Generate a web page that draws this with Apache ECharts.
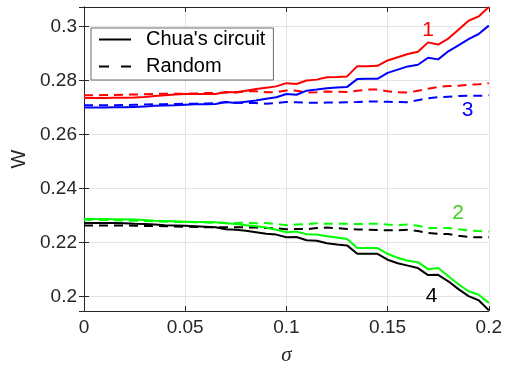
<!DOCTYPE html>
<html>
<head>
<meta charset="utf-8">
<script src="https://cdn.jsdelivr.net/npm/echarts@6/dist/echarts.min.js"></script>
<style>
  html, body { margin: 0; padding: 0; background: #fff; }
  #chart { width: 505px; height: 374px; }
</style>
</head>
<body>
<div id="chart"></div>
<script>
// σ 取值（横轴）
const sigma = [
  0, 0.005, 0.01, 0.015, 0.02, 0.025, 0.03, 0.035, 0.04, 0.045,
  0.05, 0.055, 0.06, 0.065, 0.07, 0.075, 0.08, 0.085, 0.09, 0.095,
  0.1, 0.105, 0.11, 0.115, 0.12, 0.125, 0.13, 0.135, 0.14, 0.145,
  0.15, 0.155, 0.16, 0.165, 0.17, 0.175, 0.18, 0.185, 0.19, 0.195, 0.2
]

// curve 1 (red)
const redChua = [
  0.2736, 0.2736, 0.2736, 0.2737, 0.2737, 0.2738, 0.2740, 0.2743, 0.2746, 0.2749,
  0.2751, 0.2751, 0.2751, 0.2751, 0.2758, 0.2757, 0.2763, 0.2769, 0.2774, 0.2779,
  0.2791, 0.2788, 0.2801, 0.2804, 0.2813, 0.2814, 0.2816, 0.2854, 0.2854, 0.2855,
  0.2875, 0.2887, 0.2899, 0.2907, 0.2942, 0.2934, 0.2956, 0.2989, 0.3022, 0.3038, 0.3073
]
const redRandom = [
  0.2746, 0.2746, 0.2747, 0.2747, 0.2748, 0.2749, 0.2750, 0.2751, 0.2752, 0.2752,
  0.2752, 0.2753, 0.2754, 0.2754, 0.2756, 0.2756, 0.2761, 0.2761, 0.2757, 0.2757,
  0.2764, 0.2763, 0.2756, 0.2757, 0.2760, 0.2759, 0.2758, 0.2763, 0.2767, 0.2767,
  0.2761, 0.2757, 0.2756, 0.2763, 0.2770, 0.2777, 0.2780, 0.2781, 0.2785, 0.2787, 0.2791
]
// curve 3 (blue)
const blueChua = [
  0.2701, 0.2701, 0.2701, 0.2702, 0.2702, 0.2703, 0.2704, 0.2707, 0.2708, 0.2709,
  0.2711, 0.2713, 0.2713, 0.2714, 0.2721, 0.2717, 0.2722, 0.2727, 0.2733, 0.2739,
  0.2751, 0.2748, 0.2763, 0.2767, 0.2772, 0.2775, 0.2777, 0.2806, 0.2807, 0.2807,
  0.2829, 0.2841, 0.2853, 0.2859, 0.2885, 0.2879, 0.2909, 0.2931, 0.2954, 0.2973, 0.3004
]
const blueRandom = [
  0.2709, 0.2709, 0.2709, 0.2709, 0.2710, 0.2711, 0.2712, 0.2713, 0.2713, 0.2714,
  0.2715, 0.2715, 0.2716, 0.2717, 0.2720, 0.2719, 0.2717, 0.2717, 0.2715, 0.2717,
  0.2721, 0.2720, 0.2719, 0.2718, 0.2719, 0.2719, 0.2720, 0.2721, 0.2723, 0.2723,
  0.2722, 0.2721, 0.2720, 0.2728, 0.2735, 0.2739, 0.2741, 0.2743, 0.2744, 0.2744, 0.2746
]
// curve 2 (green)
const greenChua = [
  0.2288, 0.2288, 0.2288, 0.2287, 0.2287, 0.2286, 0.2284, 0.2281, 0.2280, 0.2279,
  0.2278, 0.2277, 0.2277, 0.2276, 0.2272, 0.2269, 0.2265, 0.2261, 0.2256, 0.2248,
  0.2239, 0.2241, 0.2231, 0.2230, 0.2224, 0.2219, 0.2214, 0.2180, 0.2180, 0.2180,
  0.2159, 0.2144, 0.2133, 0.2128, 0.2102, 0.2106, 0.2076, 0.2046, 0.2020, 0.2007, 0.1977
]
const greenRandom = [
  0.2285, 0.2285, 0.2284, 0.2283, 0.2282, 0.2281, 0.2280, 0.2279, 0.2278, 0.2277,
  0.2277, 0.2276, 0.2275, 0.2274, 0.2273, 0.2273, 0.2274, 0.2272, 0.2273, 0.2269,
  0.2265, 0.2267, 0.2269, 0.2272, 0.2270, 0.2270, 0.2270, 0.2269, 0.2270, 0.2270,
  0.2267, 0.2265, 0.2267, 0.2263, 0.2254, 0.2254, 0.2254, 0.2250, 0.2246, 0.2243, 0.2241
]
// curve 4 (black)
const blackChua = [
  0.2273, 0.2273, 0.2273, 0.2273, 0.2272, 0.2270, 0.2269, 0.2267, 0.2265, 0.2264,
  0.2263, 0.2261, 0.2259, 0.2257, 0.2250, 0.2248, 0.2244, 0.2239, 0.2233, 0.2230,
  0.2220, 0.2221, 0.2209, 0.2207, 0.2198, 0.2193, 0.2190, 0.2159, 0.2159, 0.2159,
  0.2137, 0.2124, 0.2115, 0.2106, 0.2080, 0.2081, 0.2057, 0.2028, 0.2002, 0.1987, 0.1950
]
const blackRandom = [
  0.2264, 0.2264, 0.2264, 0.2264, 0.2264, 0.2263, 0.2262, 0.2262, 0.2261, 0.2260,
  0.2259, 0.2258, 0.2257, 0.2257, 0.2257, 0.2257, 0.2257, 0.2256, 0.2254, 0.2253,
  0.2250, 0.2251, 0.2250, 0.2254, 0.2256, 0.2254, 0.2251, 0.2249, 0.2248, 0.2247,
  0.2246, 0.2246, 0.2248, 0.2243, 0.2236, 0.2233, 0.2232, 0.2226, 0.2221, 0.2220, 0.2220
]

// 曲线编号标注 [σ, W]
const curveLabels = [
  { text: '1', at: [0.170, 0.2987], color: '#ff0000' },
  { text: '2', at: [0.1848, 0.2311], color: '#3fcc1e' },
  { text: '3', at: [0.1895, 0.2692], color: '#0000ff' },
  { text: '4', at: [0.1717, 0.2000], color: '#000000' },
]

const AXIS = '#262626'
const FONT = 'Liberation Sans'

const chart = echarts.init(document.getElementById('chart'))

function pairs(ys) {
  return sigma.map((s, i) => [s, ys[i]])
}

function line(name, ys, color, dashed) {
  return {
    name,
    type: 'line',
    data: pairs(ys),
    symbol: 'none',
    lineStyle: { width: 2, color, type: dashed ? [9, 6] : 'solid' },
    itemStyle: { color },
    z: dashed ? 2 : 3,
  }
}

const yFmt = (v) => {
  const k = v / 0.02
  if (Math.abs(k - Math.round(k)) > 1e-6) return ''
  return String(+v.toFixed(2))
}

const yBase = {
  type: 'value',
  min: 0.1947,
  max: 0.3073,
  splitNumber: 5,
  axisLine: { show: true, lineStyle: { color: AXIS, width: 1 } },
  axisTick: { show: true, inside: true, length: 5, lineStyle: { color: AXIS } },
}

chart.setOption({
  animation: false,
  backgroundColor: '#fff',
  grid: { left: 84, right: 14, top: 7, bottom: 63 },
  legend: {
    data: [
      { name: "Chua's circuit", itemStyle: { opacity: 0 } },
      { name: 'Random', itemStyle: { opacity: 0 }, lineStyle: { type: [10, 12] } },
    ],
    orient: 'vertical',
    left: 91,
    top: 28,
    padding: [0, 8, 2, 7],
    itemGap: 4,
    itemWidth: 32,
    itemHeight: 14,
    backgroundColor: '#fff',
    borderColor: '#6a6a6a',
    borderWidth: 1,
    borderRadius: 0,
    itemStyle: { opacity: 0 },
    lineStyle: { width: 2 },
    textStyle: { fontFamily: FONT, fontSize: 20, color: '#000', lineHeight: 23, padding: [0, 0, 0, 10] },
  },
  xAxis: [
    {
      type: 'value',
      min: 0,
      max: 0.2,
      interval: 0.05,
      name: 'σ',
      nameLocation: 'middle',
      nameGap: 34,
      nameTextStyle: { fontFamily: 'Liberation Serif', fontStyle: 'italic', fontSize: 21, color: AXIS },
      axisLine: { show: true, onZero: false, lineStyle: { color: AXIS, width: 1 } },
      axisTick: { show: true, inside: true, length: 5, lineStyle: { color: AXIS } },
      axisLabel: { fontFamily: FONT, fontSize: 19, color: AXIS, margin: 7 },
      splitLine: { show: true, lineStyle: { color: '#e3e3e3', width: 1 } },
    },
    {
      type: 'value',
      position: 'top',
      min: 0,
      max: 0.2,
      interval: 0.05,
      axisLine: { show: true, onZero: false, lineStyle: { color: AXIS, width: 1 } },
      axisTick: { show: true, inside: true, length: 5, lineStyle: { color: AXIS } },
      axisLabel: { show: false },
      splitLine: { show: false },
    },
  ],
  yAxis: [
    Object.assign({}, yBase, {
      name: 'W',
      nameLocation: 'middle',
      nameGap: 53,
      nameRotate: 90,
      nameTextStyle: { fontFamily: FONT, fontSize: 20, color: AXIS },
      axisLabel: { fontFamily: FONT, fontSize: 19, color: AXIS, margin: 7, formatter: yFmt },
      splitLine: { show: true, lineStyle: { color: '#e3e3e3', width: 1 } },
    }),
    Object.assign({}, yBase, {
      position: 'right',
      axisLabel: { show: false },
      splitLine: { show: false },
    }),
  ],
  series: [
    line('red', redChua, '#ff0000', false),
    line('redR', redRandom, '#ff0000', true),
    line('blue', blueChua, '#0000ff', false),
    line('blueR', blueRandom, '#0000ff', true),
    line('green', greenChua, '#00ff00', false),
    line('greenR', greenRandom, '#00ff00', true),
    line("Chua's circuit", blackChua, '#000000', false),
    line('Random', blackRandom, '#000000', true),
  ],
})

// 曲线编号，位置走坐标轴换算
chart.setOption({
  graphic: curveLabels.map((l) => {
    const p = chart.convertToPixel({ xAxisIndex: 0, yAxisIndex: 0 }, l.at)
    return {
      type: 'text',
      x: p[0],
      y: p[1],
      z: 10,
      style: {
        text: l.text,
        fill: l.color,
        fontFamily: FONT,
        fontSize: 21,
        align: 'center',
        verticalAlign: 'middle',
      },
    }
  }),
})
</script>
</body>
</html>
